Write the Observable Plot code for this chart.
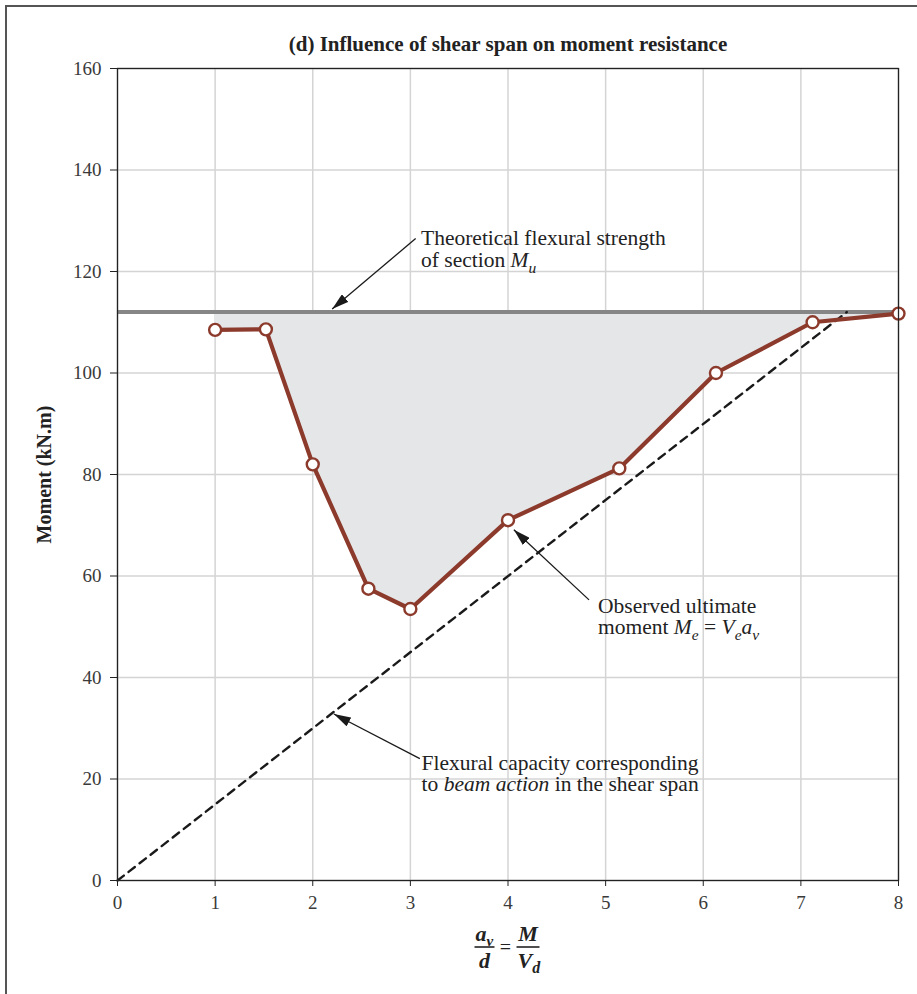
<!DOCTYPE html>
<html><head><meta charset="utf-8">
<script src="https://cdn.jsdelivr.net/npm/d3@7"></script>
<script src="https://cdn.jsdelivr.net/npm/@observablehq/plot@0.6"></script>
<style>
body{margin:0;background:#fff;}
#wrap{position:relative;width:917px;height:994px;overflow:hidden;}
#wrap svg{position:absolute;left:0;top:0;}
#border{position:absolute;left:5px;top:5px;width:930px;height:1000px;border-top:2px solid #555;border-left:2px solid #555;}
</style></head><body><div id="wrap"><div id="border"></div></div>
<script>
// ---- data ----
const shearSpan = [1, 1.52, 2, 2.57, 3, 4, 5.14, 6.13, 7.12, 8];
const observedMoment = [108.5, 108.6, 82, 57.5, 53.5, 71, 81.2, 100, 110, 111.7];
const theoreticalMu = 112;
const beamActionX = [0, 7.47];
const beamActionM = [0, 112];
const xTicks = [0, 1, 2, 3, 4, 5, 6, 7, 8];
const yTicks = [0, 20, 40, 60, 80, 100, 120, 140, 160];
const titleText = "(d) Influence of shear span on moment resistance";
const yLabel = "Moment (kN.m)";
// annotation arrows (data coords)
const arrowX1 = [3.054, 4.83, 3.097];
const arrowY1 = [126.5, 55.3, 24.0];
const arrowX2 = [2.199, 4.06, 2.216];
const arrowY2 = [112.6, 69.1, 32.8];
// annotation labels: anchor (data coords of first baseline) and rich-text lines
const noteX = [3.114, 4.927, 3.12];
const noteY = [125.1, 52.7, 21.7];
const noteLines = [
  [[{t: "Theoretical flexural strength"}], [{t: "of section "}, {t: "M", it: true}, {t: "u", it: true, sub: true}]],
  [[{t: "Observed ultimate"}], [{t: "moment "}, {t: "M", it: true}, {t: "e", it: true, sub: true}, {t: " = "}, {t: "V", it: true}, {t: "e", it: true, sub: true}, {t: "a", it: true}, {t: "v", it: true, sub: true}]],
  [[{t: "Flexural capacity corresponding"}], [{t: "to "}, {t: "beam action", it: true}, {t: " in the shear span"}]]
];

const data = shearSpan.map((x, i) => ({x, m: observedMoment[i]}));
const beam = beamActionX.map((x, i) => ({x, m: beamActionM[i]}));
const arrows = arrowX1.map((x1, i) => ({x1, y1: arrowY1[i], x2: arrowX2[i], y2: arrowY2[i]}));

const red = "#8c3a2b";
const font = "'Liberation Serif', 'Times New Roman', serif";

const plot = Plot.plot({
  width: 917, height: 994,
  marginLeft: 117, marginRight: 19, marginTop: 68, marginBottom: 114,
  style: {fontFamily: font, fontSize: "19px", color: "#3a3a3a", background: "transparent", overflow: "visible"},
  x: {domain: [0, 8], label: null},
  y: {domain: [0, 160], label: null},
  marks: [
    Plot.gridX(xTicks, {stroke: "#d4d4d4", strokeOpacity: 1, strokeWidth: 1.5}),
    Plot.gridY(yTicks, {stroke: "#d4d4d4", strokeOpacity: 1, strokeWidth: 1.5}),
    Plot.areaY(data, {x: "x", y1: "m", y2: theoreticalMu, fill: "#e5e6e8"}),
    Plot.ruleY([theoreticalMu], {stroke: "#868686", strokeWidth: 4}),
    Plot.line(beam, {x: "x", y: "m", stroke: "#1a1a1a", strokeWidth: 2.4, strokeDasharray: "8,6"}),
    Plot.line(data, {x: "x", y: "m", stroke: red, strokeWidth: 4.2}),
    Plot.dot(data, {x: "x", y: "m", r: 6, fill: "white", stroke: red, strokeWidth: 2.4}),
    Plot.link(arrows, {x1: "x1", y1: "y1", x2: "x2", y2: "y2", stroke: "#1a1a1a", strokeWidth: 1.3}),
    Plot.frame({stroke: "#222", strokeWidth: 1.3}),
    Plot.axisX({ticks: xTicks, tickSize: 6, tickPadding: 9, label: null, stroke: "#222"}),
    Plot.axisY({ticks: yTicks, tickSize: 7, tickPadding: 9, label: null, stroke: "#222"}),
    Plot.text([titleText], {frameAnchor: "top", dy: -24, fontWeight: "bold", fontSize: 21, fill: "#222", lineAnchor: "middle", textAnchor: "middle"}),
    Plot.text([yLabel], {frameAnchor: "left", dx: -73, rotate: -90, fontWeight: "bold", fontSize: 20, fill: "#222", lineAnchor: "middle", textAnchor: "middle"})
  ]
});
document.getElementById("wrap").appendChild(plot);

const svg = d3.select(plot);
const sx = plot.scale("x"), sy = plot.scale("y");

// filled arrowheads
const defs = svg.append("defs");
defs.append("marker").attr("id", "ahead").attr("viewBox", "0 0 17 10")
  .attr("refX", 17).attr("refY", 5).attr("markerWidth", 17).attr("markerHeight", 10)
  .attr("markerUnits", "userSpaceOnUse").attr("orient", "auto")
  .append("path").attr("d", "M0,0L17,5L0,10Z").attr("fill", "#1a1a1a");
svg.selectAll('g[aria-label="link"] path, g[aria-label="link"] line').attr("marker-end", "url(#ahead)");

function rich(g, x, y, segs, size) {
  const t = g.append("text").attr("x", x).attr("y", y).attr("font-size", size)
    .attr("font-family", font).attr("fill", "#222").attr("text-anchor", "start");
  let shift = 0;
  for (const s of segs) {
    const ts = t.append("tspan").text(s.t);
    if (s.it) ts.attr("font-style", "italic");
    const target = s.sub ? size * 0.28 : 0;
    if (target !== shift) { ts.attr("dy", target - shift); shift = target; }
    if (s.sub) ts.attr("font-size", size * 0.72);
  }
  return t;
}

const notes = svg.append("g").attr("text-anchor", "start");
noteLines.forEach((lines, i) => {
  lines.forEach((segs, j) => {
    rich(notes, sx.apply(noteX[i]), sy.apply(noteY[i]) + j * 21.5, segs, 21.5);
  });
});

// x-axis label: a_v / d = M / V_d
const cx = (117 + 898) / 2;
const fx = svg.append("g").attr("font-family", font).attr("font-weight", "bold").attr("font-style", "italic").attr("fill", "#222");
const xl = fx.append("text").attr("x", cx - 32).attr("y", 941).attr("font-size", 22).attr("text-anchor", "start");
xl.append("tspan").text("a");
xl.append("tspan").text("v").attr("font-size", 15).attr("dy", 5);
fx.append("line").attr("x1", cx - 33).attr("x2", cx - 13).attr("y1", 947).attr("y2", 947).attr("stroke", "#222").attr("stroke-width", 1.6);
fx.append("text").attr("x", cx - 23).attr("y", 968).attr("font-size", 22).attr("text-anchor", "middle").text("d");
fx.append("text").attr("x", cx - 2).attr("y", 954).attr("font-size", 20).attr("font-style", "normal").attr("font-weight", "normal").attr("text-anchor", "middle").text("=");
fx.append("text").attr("x", cx + 20.5).attr("y", 941).attr("font-size", 22).attr("text-anchor", "middle").text("M");
fx.append("line").attr("x1", cx + 9).attr("x2", cx + 32).attr("y1", 947).attr("y2", 947).attr("stroke", "#222").attr("stroke-width", 1.6);
const vd = fx.append("text").attr("x", cx + 10).attr("y", 968).attr("font-size", 22).attr("text-anchor", "start");
vd.append("tspan").text("V");
vd.append("tspan").text("d").attr("font-size", 16).attr("dy", 5);
</script></body></html>
